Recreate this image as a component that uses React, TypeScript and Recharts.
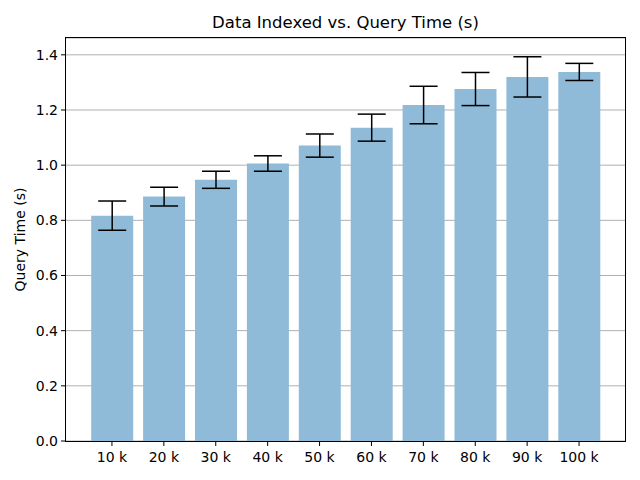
import { BarChart, Bar, XAxis, YAxis, CartesianGrid, ErrorBar } from 'recharts';

const categories = ['10 k', '20 k', '30 k', '40 k', '50 k', '60 k', '70 k', '80 k', '90 k', '100 k'];
const queryTime = [0.817, 0.886, 0.947, 1.006, 1.071, 1.136, 1.218, 1.276, 1.32, 1.338];
const queryErr = [0.053, 0.034, 0.031, 0.028, 0.042, 0.049, 0.068, 0.06, 0.073, 0.031];
const yTicks = [0, 0.2, 0.4, 0.6, 0.8, 1.0, 1.2, 1.4];

const data = categories.map((name, i) => ({
  name,
  time: queryTime[i],
  err: queryErr[i],
}));

const font = 'DejaVu Sans, sans-serif';

export default function App() {
  return (
    <div
      style={{
        position: 'absolute',
        left: 0,
        top: 0,
        width: 640,
        height: 480,
        background: '#fff',
        fontFamily: font,
      }}
    >
      <div
        style={{
          position: 'absolute',
          top: 13,
          left: 66,
          width: 559,
          textAlign: 'center',
          fontSize: 16.5,
          color: '#000',
        }}
      >
        Data Indexed vs. Query Time (s)
      </div>
      <BarChart
        width={640}
        height={480}
        data={data}
        margin={{ top: 38, right: 15, bottom: 0, left: 0 }}
        barCategoryGap={5.2}
      >
        <CartesianGrid vertical={false} stroke="#b0b0b0" strokeWidth={1} />
        <XAxis
          dataKey="name"
          height={39}
          padding={{ left: 20, right: 20 }}
          axisLine={false}
          tickLine={{ stroke: '#000' }}
          tickSize={5}
          tickMargin={6}
          tick={{ fill: '#000', fontSize: 14, fontFamily: font }}
          interval={0}
        />
        <YAxis
          width={66}
          domain={[0, 1.461]}
          ticks={yTicks}
          axisLine={false}
          tickLine={{ stroke: '#000' }}
          tickSize={5}
          tickMargin={3}
          tickFormatter={(v) => Number(v).toFixed(1)}
          tick={{ fill: '#000', fontSize: 14, fontFamily: font }}
          label={{
            value: 'Query Time (s)',
            angle: -90,
            position: 'insideLeft',
            offset: 20,
            style: { textAnchor: 'middle', fill: '#000', fontSize: 14, fontFamily: font },
          }}
        />
        <Bar dataKey="time" fill="#8fbbd9" isAnimationActive={false}>
          <ErrorBar dataKey="err" width={14} stroke="#000" strokeWidth={1.5} direction="y" />
        </Bar>
      </BarChart>
      <div
        style={{
          position: 'absolute',
          left: 65,
          top: 37,
          width: 561,
          height: 405,
          boxSizing: 'border-box',
          border: '1px solid #000',
          pointerEvents: 'none',
        }}
      />
    </div>
  );
}
